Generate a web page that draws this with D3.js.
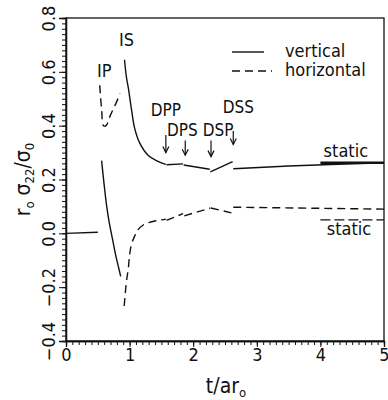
<!DOCTYPE html>
<html>
<head>
<meta charset="utf-8">
<script src="https://cdn.jsdelivr.net/npm/d3@7"></script>
<style>
  body { margin: 0; background: #fff; }
  text { font-family: "Liberation Sans Narrow", "DejaVu Sans Condensed", "Liberation Sans", sans-serif; fill: #111; }
</style>
</head>
<body>
<div id="output"></div>
<script>
var w = 388;   // svg width
var h = 400;   // svg height

// vertical stress (solid) - one piece per wave arrival
var vertPre = [[0, 0], [0.5, 0.004]];
var vertIP = [[0.56, 0.27], [0.6, 0.18], [0.64, 0.1], [0.68, 0.04], [0.73, -0.02], [0.78, -0.08], [0.82, -0.12], [0.86, -0.16]];
var vertIS = [[0.92, 0.645], [0.95, 0.58], [0.98, 0.54], [1.03, 0.46], [1.08, 0.39], [1.16, 0.335], [1.29, 0.29], [1.42, 0.27], [1.57, 0.256]];
var vertDPP = [[1.58, 0.255], [1.84, 0.258]];
var vertDPS = [[1.85, 0.254], [2.26, 0.238]];
var vertDSP = [[2.27, 0.228], [2.62, 0.266]];
var vertDSS = [[2.63, 0.24], [3.5, 0.25], [5, 0.262]];
var vertStatic = [[4.0, 0.262], [5, 0.262]];

// horizontal stress (dashed)
var horIP = [[0.53, 0.55], [0.56, 0.46], [0.59, 0.4], [0.63, 0.4], [0.7, 0.44], [0.78, 0.48], [0.85, 0.52]];
var horIS = [[0.915, -0.27], [0.95, -0.18], [0.98, -0.13], [1.0, -0.08], [1.03, -0.04], [1.08, -0.01], [1.13, 0.013], [1.21, 0.03], [1.3, 0.04], [1.45, 0.048], [1.57, 0.053]];
var horDPP = [[1.58, 0.048], [1.84, 0.073]];
var horDPS = [[1.86, 0.065], [2.27, 0.094]];
var horDSP = [[2.28, 0.094], [2.62, 0.075]];
var horDSS = [[2.63, 0.097], [5, 0.09]];
var horStatic = [[4.0, 0.05], [5, 0.05]];

// arrival arrows
var arrivalNames = ['DPP', 'DPS', 'DSP', 'DSS'];
var arrivalT = [1.57, 1.875, 2.28, 2.63];
var arrivalTop = [0.365, 0.345, 0.345, 0.38];
var arrivalBottom = [0.30, 0.29, 0.285, 0.33];

// ticks
var xTicks = [0, 1, 2, 3, 4, 5];
var yTicks = [-0.4, -0.2, 0.0, 0.2, 0.4, 0.6, 0.8];

var svg = d3.select('#output').append('svg')
    .attr('width', w)
    .attr('height', h);

var x = d3.scaleLinear().domain([0, 5]).range([66, 384]);
var y = d3.scaleLinear().domain([-0.4, 0.8]).range([341, 18]);

// frame
svg.append('rect')
    .attr('x', x(0)).attr('y', y(0.8))
    .attr('width', x(5) - x(0)).attr('height', y(-0.4) - y(0.8))
    .attr('fill', 'none').attr('stroke', '#111').attr('stroke-width', 1.3);

// bottom axis: minor every 0.1, major every 1
var xAxisMinor = d3.axisBottom(x).ticks(50).tickSize(4).tickFormat('');
var xAxisMajor = d3.axisBottom(x).tickValues(xTicks).tickSize(6).tickFormat(d3.format('d'));
svg.append('g').attr('transform', 'translate(0,' + y(-0.4) + ')').call(xAxisMinor);
var gx = svg.append('g').attr('transform', 'translate(0,' + y(-0.4) + ')').call(xAxisMajor);
gx.selectAll('text').attr('font-size', 18).attr('dy', '0.85em').attr('y', 5);

// left axis: minor every 0.02, major every 0.2
var yAxisMinor = d3.axisLeft(y).ticks(60).tickSize(4).tickFormat('');
var yAxisMajor = d3.axisLeft(y).tickValues(yTicks).tickSize(7).tickFormat(d3.format('.1f'));
svg.append('g').attr('transform', 'translate(' + x(0) + ',0)').call(yAxisMinor);
var gy = svg.append('g').attr('transform', 'translate(' + x(0) + ',0)').call(yAxisMajor);
gy.selectAll('text')
    .attr('font-size', 18)
    .attr('transform', 'rotate(-90)')
    .attr('x', 0).attr('y', -11)
    .attr('dy', '0')
    .attr('text-anchor', 'middle')
    .text(function(d) { return d3.format('.1f')(d).replace('-', '\u2212'); });
svg.selectAll('.domain').attr('stroke', '#111').attr('stroke-width', 1.3);
svg.selectAll('.tick line').attr('stroke', '#111').attr('stroke-width', 1);

var line = d3.line()
    .x(function(d) { return x(d[0]); })
    .y(function(d) { return y(d[1]); });

var curve = d3.line()
    .x(function(d) { return x(d[0]); })
    .y(function(d) { return y(d[1]); })
    .curve(d3.curveCatmullRom);

var solidPieces = [vertPre, vertIP, vertIS, vertDPP, vertDPS, vertDSP, vertDSS];
var dashedPieces = [horIP, horIS, horDPP, horDPS, horDSP, horDSS];

svg.selectAll('path.vert')
    .data(solidPieces)
    .enter().append('path')
    .attr('class', 'vert')
    .attr('d', curve)
    .attr('fill', 'none').attr('stroke', '#111').attr('stroke-width', 1.4);

svg.selectAll('path.hor')
    .data(dashedPieces)
    .enter().append('path')
    .attr('class', 'hor')
    .attr('d', curve)
    .attr('fill', 'none').attr('stroke', '#111').attr('stroke-width', 1.4)
    .attr('stroke-dasharray', '8,5');

// static values
svg.append('path').attr('d', line(vertStatic))
    .attr('fill', 'none').attr('stroke', '#111').attr('stroke-width', 2.6);
svg.append('path').attr('d', line(horStatic))
    .attr('fill', 'none').attr('stroke', '#111').attr('stroke-width', 1.4)
    .attr('stroke-dasharray', '10,4');
svg.append('text').attr('x', x(4.4)).attr('y', y(0.262) - 6)
    .attr('text-anchor', 'middle').attr('font-size', 18).text('static');
svg.append('text').attr('x', x(4.45)).attr('y', y(0.05) + 15)
    .attr('text-anchor', 'middle').attr('font-size', 18).text('static');

// wave labels
svg.append('text').attr('x', x(0.6)).attr('y', y(0.6) + 5)
    .attr('text-anchor', 'middle').attr('font-size', 18).text('IP');
svg.append('text').attr('x', x(0.95)).attr('y', y(0.715) + 5)
    .attr('text-anchor', 'middle').attr('font-size', 18).text('IS');

// arrows + arrival labels
var labelDx = [0, -3, 7, 5];
var labelDy = [-23, -8, -8, -22];
arrivalNames.forEach(function(name, i) {
  var ax = x(arrivalT[i]);
  svg.append('line')
      .attr('x1', ax).attr('x2', ax)
      .attr('y1', y(arrivalTop[i])).attr('y2', y(arrivalBottom[i]))
      .attr('stroke', '#111').attr('stroke-width', 1.2);
  svg.append('path')
      .attr('d', 'M' + (ax - 3) + ',' + (y(arrivalBottom[i]) - 6) + 'L' + ax + ',' + y(arrivalBottom[i]) + 'L' + (ax + 3) + ',' + (y(arrivalBottom[i]) - 6))
      .attr('fill', 'none').attr('stroke', '#111').attr('stroke-width', 1.2);
  svg.append('text')
      .attr('x', ax + labelDx[i]).attr('y', y(arrivalTop[i]) + labelDy[i] + 4)
      .attr('text-anchor', 'middle').attr('font-size', 17).text(name);
});

// legend
var legend = svg.append('g').attr('transform', 'translate(232,52)');
legend.append('line').attr('x1', 0).attr('x2', 32).attr('y1', 0).attr('y2', 0)
    .attr('stroke', '#111').attr('stroke-width', 1.4);
legend.append('text').attr('x', 53).attr('y', 5).attr('font-size', 18).text('vertical');
legend.append('line').attr('x1', 0).attr('x2', 40).attr('y1', 19).attr('y2', 19)
    .attr('stroke', '#111').attr('stroke-width', 1.4).attr('stroke-dasharray', '8,5');
legend.append('text').attr('x', 53).attr('y', 24).attr('font-size', 18).text('horizontal');

// axis titles
var yt = svg.append('text')
    .attr('transform', 'translate(30,' + y(0.2) + ') rotate(-90)')
    .attr('text-anchor', 'middle').attr('font-size', 21);
yt.append('tspan').text('r');
yt.append('tspan').attr('font-size', 13).attr('dy', 4).text('o');
yt.append('tspan').attr('dy', -4).text(' \u03c3');
yt.append('tspan').attr('font-size', 13).attr('dy', 4).text('22');
yt.append('tspan').attr('dy', -4).text('/\u03c3');
yt.append('tspan').attr('font-size', 13).attr('dy', 4).text('0');

var xt = svg.append('text')
    .attr('x', 226).attr('y', 393)
    .attr('text-anchor', 'middle').attr('font-size', 21);
xt.append('tspan').text('t/ar');
xt.append('tspan').attr('font-size', 13).attr('dy', 4).text('o');
</script>
</body>
</html>
